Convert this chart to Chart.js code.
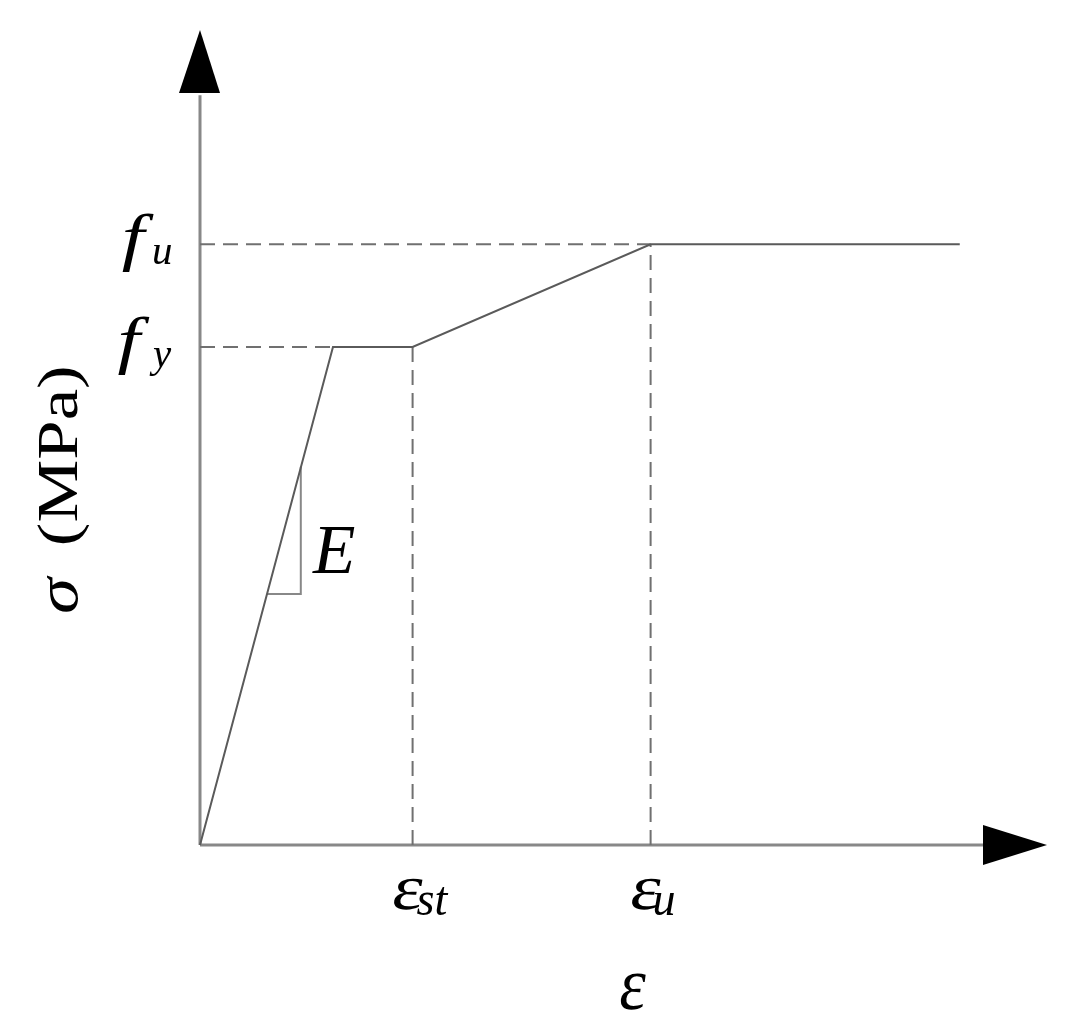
<!DOCTYPE html>
<html>
<head>
<meta charset="utf-8">
<script src="https://cdn.jsdelivr.net/npm/chart.js@4.4.1/dist/chart.umd.min.js"></script>
<style>
  html, body { margin: 0; padding: 0; background: #fff; }
  #wrap { width: 1073px; height: 1033px; }
</style>
</head>
<body>
<div id="wrap"><canvas id="chart"></canvas></div>
<script>
// idealised steel stress-strain curve (arbitrary units, x 0..10, y 0..10)
const strainPts = [0, 1.57, 2.51, 5.32, 8.97];
const stressPts = [0, 6.11, 6.11, 7.37, 7.37];

// key strains / stresses used for the dashed guides and labels
const epsY = 1.57;
const epsSt = 2.51;
const epsU = 5.32;
const fy = 6.11;
const fu = 7.37;

// little slope triangle for E
const triX = [0.79, 1.19, 1.19];
const triY = [3.08, 3.08, 4.64];

// tick labels: [main, subscript]
const xTickVals = [epsSt, epsU];
const xTickLabels = [['ε', 'st'], ['ε', 'u']];
const yTickVals = [fu, fy];
const yTickLabels = [['f', 'u'], ['f', 'y']];

const xTitle = 'ε';
const yTitleSym = 'σ';
const yTitleUnit = '(MPa)';

const pts = (xs, ys) => xs.map((x, i) => ({x: x, y: ys[i]}));

const lineGray = '#5a5a5a';
const dashGray = '#707070';
const SERIF = '"Liberation Serif", "Times New Roman", serif';

// draw a string scaled by sx/sy (the scan is a bit distorted), aligned on its ink box
// returns [inkLeft, inkRight] in canvas px
function txt(ctx, s, x, y, font, sx, sy, align, skew) {
  ctx.save();
  ctx.font = font;
  ctx.fillStyle = '#000';
  ctx.textBaseline = 'alphabetic';
  ctx.textAlign = 'left';
  const m = ctx.measureText(s);
  const inkL = -m.actualBoundingBoxLeft * sx;
  const inkR = m.actualBoundingBoxRight * sx;
  let ox = x - inkL;
  if (align === 'right') ox = x - inkR;
  if (align === 'center') ox = x - (inkL + inkR) / 2;
  ctx.translate(ox, y);
  ctx.scale(sx, sy);
  if (skew) ctx.transform(1, 0, -skew, 1, 0, 0);
  ctx.fillText(s, 0, 0);
  ctx.restore();
  return [ox + inkL, ox + inkR];
}

const axesPlugin = {
  id: 'axesPlugin',
  beforeDatasetsDraw(chart) {
    const ctx = chart.ctx;
    const xs = chart.scales.x, ys = chart.scales.y;
    const x0 = xs.getPixelForValue(0), y0 = ys.getPixelForValue(0);
    ctx.save();
    ctx.strokeStyle = '#888';
    ctx.lineWidth = 3;
    ctx.beginPath();
    ctx.moveTo(x0, y0);
    ctx.lineTo(x0, ys.getPixelForValue(9.2));
    ctx.moveTo(x0, y0);
    ctx.lineTo(xs.getPixelForValue(9.3), y0);
    ctx.stroke();
    ctx.restore();
  },
  afterDraw(chart) {
    const ctx = chart.ctx;
    const xs = chart.scales.x, ys = chart.scales.y;
    const x0 = xs.getPixelForValue(0), y0 = ys.getPixelForValue(0);
    const xTip = xs.getPixelForValue(10), yTip = ys.getPixelForValue(10);
    ctx.save();
    ctx.fillStyle = '#000';
    // y arrow
    ctx.beginPath();
    ctx.moveTo(x0, yTip);
    ctx.lineTo(x0 - 21, yTip + 63);
    ctx.lineTo(x0 + 20, yTip + 63);
    ctx.closePath();
    ctx.fill();
    // x arrow
    ctx.beginPath();
    ctx.moveTo(xTip, y0);
    ctx.lineTo(xTip - 64, y0 - 20);
    ctx.lineTo(xTip - 64, y0 + 20);
    ctx.closePath();
    ctx.fill();
    ctx.restore();

    // y tick labels: f with subscript, right aligned to the axis
    yTickVals.forEach((v, i) => {
      const py = ys.getPixelForValue(v);
      const sub = txt(ctx, yTickLabels[i][1], x0 - 28, py + 20, 'italic 39px ' + SERIF, 1.05, 1.1, 'right');
      txt(ctx, yTickLabels[i][0], sub[0] + 1, py + 14, 'italic 60px ' + SERIF, 1.35, 1.05, 'right');
    });
    // x tick labels: epsilon centred near the tick, subscript after it
    xTickVals.forEach((v, i) => {
      const px = xs.getPixelForValue(v);
      const main = txt(ctx, xTickLabels[i][0], px - 7, y0 + 64, '56px ' + SERIF, 1.3, 1.15, 'center', 0.15);
      txt(ctx, xTickLabels[i][1], main[1] - 2, y0 + 70, 'italic 44px ' + SERIF, 1.05, 1.1, 'left');
    });
    // x title
    txt(ctx, xTitle, xs.getPixelForValue(5.09), y0 + 164, '58px ' + SERIF, 1.1, 1.3, 'center', 0.15);
    // y title (rotated)
    ctx.save();
    ctx.translate(77, 614);
    ctx.rotate(-Math.PI / 2);
    ctx.scale(1.22, 1);
    ctx.fillStyle = '#000';
    ctx.textAlign = 'left';
    ctx.font = 'italic 60px ' + SERIF;
    ctx.fillText(yTitleSym, 0, 0);
    const w = ctx.measureText(yTitleSym).width;
    ctx.font = '58px ' + SERIF;
    ctx.fillText(yTitleUnit, w + 26, 0);
    ctx.restore();
    // E label next to the slope triangle
    txt(ctx, 'E', xs.getPixelForValue(1.32), ys.getPixelForValue(3.34), 'italic 62px ' + SERIF, 1.12, 1.14, 'left');
  }
};

const common = {showLine: true, pointRadius: 0, fill: false, tension: 0, clip: false};
const dash = [15, 8];

new Chart(document.getElementById('chart'), {
  type: 'scatter',
  data: {
    datasets: [
      Object.assign({label: 'curve', data: pts(strainPts, stressPts), borderColor: lineGray, borderWidth: 2}, common),
      Object.assign({label: 'fy guide', data: [{x: 0, y: fy}, {x: epsY, y: fy}], borderColor: dashGray, borderWidth: 2, borderDash: dash}, common),
      Object.assign({label: 'fu guide', data: [{x: 0, y: fu}, {x: epsU, y: fu}], borderColor: dashGray, borderWidth: 2, borderDash: dash}, common),
      Object.assign({label: 'est guide', data: [{x: epsSt, y: 0}, {x: epsSt, y: fy}], borderColor: dashGray, borderWidth: 2, borderDash: dash}, common),
      Object.assign({label: 'eu guide', data: [{x: epsU, y: 0}, {x: epsU, y: fu}], borderColor: dashGray, borderWidth: 2, borderDash: dash}, common),
      Object.assign({label: 'E triangle', data: pts(triX, triY), borderColor: '#888', borderWidth: 2}, common)
    ]
  },
  options: {
    responsive: true,
    maintainAspectRatio: false,
    animation: false,
    layout: {padding: {left: 200, right: 26, top: 30, bottom: 188}},
    scales: {
      x: {type: 'linear', min: 0, max: 10, display: false},
      y: {type: 'linear', min: 0, max: 10, display: false}
    },
    plugins: {
      legend: {display: false},
      tooltip: {enabled: false},
      title: {display: false}
    }
  },
  plugins: [axesPlugin]
});
</script>
</body>
</html>
